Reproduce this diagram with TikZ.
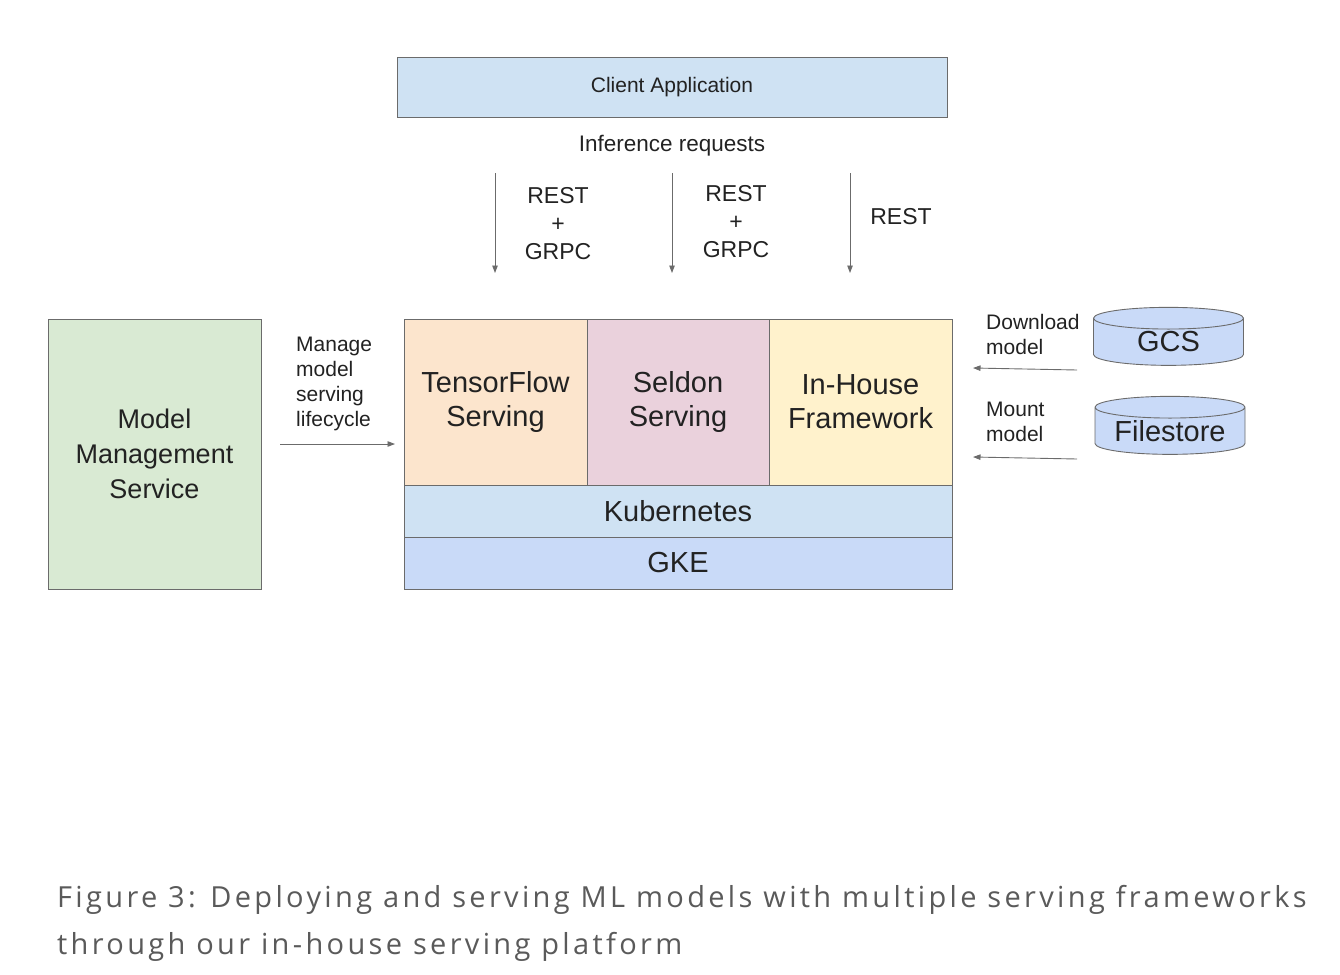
\documentclass[tikz,border=0pt]{standalone}
\usepackage{fontspec}
\setmainfont{Liberation Sans}
\newfontfamily\capfont[LetterSpace=11.5]{Open Sans}
\usetikzlibrary{shapes.geometric}
\usetikzlibrary{arrows.meta}

\definecolor{edgegray}{HTML}{6B6B6B}
\definecolor{inkdark}{HTML}{222222}
\definecolor{capgray}{HTML}{5A5A5A}
\definecolor{clientblue}{HTML}{CFE2F3}
\definecolor{mgmtgreen}{HTML}{D9EAD3}
\definecolor{tforange}{HTML}{FCE5CD}
\definecolor{seldonpink}{HTML}{EAD1DC}
\definecolor{houseyellow}{HTML}{FFF2CC}
\definecolor{gkeblue}{HTML}{C9DAF8}

\begin{document}
\begin{tikzpicture}[x=1pt,y=-1pt,>={Triangle[length=7.5pt,width=5.5pt]},
    box/.style={draw=edgegray,line width=0.9pt,text=inkdark,inner sep=0pt,align=center},
    bigtext/.style={font=\fontsize{29}{34}\selectfont},
    smalltext/.style={text=inkdark,inner sep=0pt,font=\fontsize{21}{25}\selectfont},
    flow/.style={->,draw=edgegray,line width=0.9pt},
    store/.style={box,cylinder,shape border rotate=90,aspect=0.35,fill=gkeblue,bigtext}]
                \useasboundingbox (0,0) rectangle (1340,974);
                % client side
                \node[box,fill=clientblue,minimum width=550pt,minimum height=60pt,
                      font=\fontsize{21}{25}\selectfont] (client) at (672,87) {Client Application};
                \node[smalltext,font=\fontsize{22.5}{27}\selectfont] (infer) at (672,146) {Inference requests};
                % serving frameworks
                \node[box,fill=tforange,minimum width=183pt,minimum height=166pt,bigtext] (tf) at (495.5,402) {TensorFlow\\Serving};
                \node[box,fill=seldonpink,minimum width=182pt,minimum height=166pt,bigtext] (seldon) at (678,402) {Seldon\\Serving};
                \node[box,fill=houseyellow,minimum width=183pt,minimum height=166pt,bigtext] (house) at (860.5,402) {In-House\\Framework};
                \node[box,fill=clientblue,minimum width=548pt,minimum height=52pt,bigtext] (kube) at (678,511) {Kubernetes};
                \node[box,fill=gkeblue,minimum width=548pt,minimum height=52pt,bigtext] (gke) at (678,563) {GKE};
                % management
                \node[box,fill=mgmtgreen,minimum width=213pt,minimum height=270pt,
                      font=\fontsize{27}{35}\selectfont] (mms) at (154.5,454) {Model\\Management\\Service};
                % storage
                \node[store,minimum width=150pt,minimum height=58pt] (gcs) at (1168.5,342) {\makebox[62pt]{GCS}};
                \node[store,minimum width=150pt,minimum height=58pt] (filestore) at (1170,431) {\makebox[62pt]{Filestore}};
                % request arrows
                \coordinate (r1s) at (495,173);  \coordinate (r1e) at (495,273);
                \coordinate (r2s) at (672,173);  \coordinate (r2e) at (672,273);
                \coordinate (r3s) at (850,173);  \coordinate (r3e) at (850,273);
                \draw[flow] (r1s)--(r1e);
                \draw[flow] (r2s)--(r2e);
                \draw[flow] (r3s)--(r3e);
                \node[smalltext,align=center,font=\fontsize{23}{28}\selectfont] (p1) at (558,224) {REST\\+\\GRPC};
                \node[smalltext,align=center,font=\fontsize{23}{28}\selectfont] (p2) at (736,222) {REST\\+\\GRPC};
                \node[smalltext,font=\fontsize{23}{28}\selectfont] (p3) at (901,217) {REST};
                % lifecycle arrow
                \coordinate (ls) at (280,444);  \coordinate (le) at (395,444);
                \draw[flow] (ls)--(le);
                \node[smalltext,align=left,anchor=west] (life) at (296,384) {Manage\\model\\serving\\lifecycle};
                % model arrows
                \coordinate (ds) at (1077,370);  \coordinate (de) at (973,368);
                \coordinate (ms) at (1077,459);  \coordinate (me) at (973,457);
                \draw[flow] (ds)--(de);
                \draw[flow] (ms)--(me);
                \node[smalltext,align=left,anchor=west] (down) at (986,334) {Download\\model};
                \node[smalltext,align=left,anchor=west] (mount) at (986,422) {Mount\\model};
                % caption
                \node[anchor=west,align=left,inner sep=0pt,text=capgray,
                      font=\capfont\fontsize{29}{47}\selectfont] (caption) at (57,923)
                      {Figure 3: Deploying and serving ML models with multiple serving frameworks\\through our in-house serving platform};
            \end{tikzpicture}
\end{document}
